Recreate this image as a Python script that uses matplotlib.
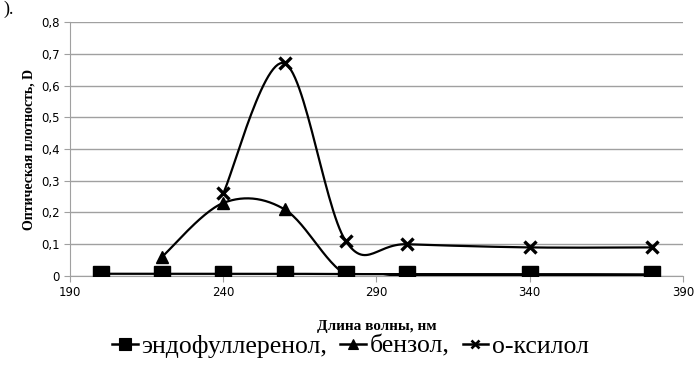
import numpy as np
import matplotlib
matplotlib.use('Agg')
import matplotlib.pyplot as plt
from matplotlib.lines import Line2D

# data
x_endo = [200, 220, 240, 260, 280, 300, 340, 380]
y_endo = [0.007, 0.007, 0.007, 0.007, 0.006, 0.006, 0.006, 0.005]
x_benz = [220, 240, 260, 280, 300, 340, 380]
y_benz = [0.06, 0.23, 0.21, 0.005, 0.003, 0.003, 0.002]
x_xyl = [240, 260, 280, 300, 340, 380]
y_xyl = [0.26, 0.67, 0.11, 0.10, 0.09, 0.09]
labels = ['эндофуллеренол,', 'бензол,', 'о-ксилол']
xticks = [190, 240, 290, 340, 390]
yticks = [0, 0.1, 0.2, 0.3, 0.4, 0.5, 0.6, 0.7, 0.8]


def smooth(x, y, n=30):
    # excel-like smoothed line: cubic bezier through the points
    x = np.asarray(x, float)
    y = np.asarray(y, float)
    px = np.concatenate([[x[0]], x, [x[-1]]])
    py = np.concatenate([[y[0]], y, [y[-1]]])
    xs, ys = [], []
    t = np.linspace(0, 1, n)
    for i in range(len(x) - 1):
        p0 = np.array([x[i], y[i]])
        p3 = np.array([x[i + 1], y[i + 1]])
        p1 = p0 + (np.array([px[i + 2], py[i + 2]]) - np.array([px[i], py[i]])) / 6
        p2 = p3 - (np.array([px[i + 3], py[i + 3]]) - np.array([px[i + 1], py[i + 1]])) / 6
        b = ((1 - t) ** 3)[:, None] * p0 + (3 * (1 - t) ** 2 * t)[:, None] * p1 \
            + (3 * (1 - t) * t ** 2)[:, None] * p2 + (t ** 3)[:, None] * p3
        xs.extend(b[:, 0])
        ys.extend(b[:, 1])
    return xs, ys


fig = plt.figure(figsize=(6.94, 3.67), dpi=100)
ax = fig.add_axes([0.1009, 0.248, 0.883, 0.692])

series = [(x_endo, y_endo, 's', 11, 1), (x_benz, y_benz, '^', 9, 1), (x_xyl, y_xyl, 'x', 8, 2.4)]
for xs_, ys_, m, ms, mew in series:
    sx, sy = smooth(xs_, ys_)
    ax.plot(sx, sy, color='black', lw=1.6, zorder=3)
    ax.plot(xs_, ys_, ls='none', marker=m, ms=ms, mew=mew, color='black', zorder=4)

ax.set_xlim(190, 390)
ax.set_ylim(0, 0.8)
ax.set_xticks(xticks)
ax.set_yticks(yticks)
ax.set_xticklabels([str(v) for v in xticks])
ax.set_yticklabels(['0' if v == 0 else ('%.1f' % v).replace('.', ',') for v in yticks])
ax.grid(axis='y', color='#a0a0a0', lw=1)
ax.set_axisbelow(True)
for s in ['top', 'right']:
    ax.spines[s].set_visible(False)
ax.spines['left'].set_color('#a0a0a0')
ax.spines['bottom'].set_color('#a0a0a0')
ax.tick_params(colors='#a0a0a0', length=4, labelcolor='black', labelsize=8.5)

ax.set_ylabel('Оптическая плотность, D', family='Liberation Serif', fontweight='bold', fontsize=10)
ax.set_xlabel('Длина волны, нм', family='Liberation Serif', fontweight='bold', fontsize=11, labelpad=15)

handles = [Line2D([], [], color='black', lw=1.8, marker=m, ms=ms * 0.75, mew=mew * 0.8)
           for _, _, m, ms, mew in series]
fig.legend(handles, labels, loc='center', bbox_to_anchor=(0.505, 0.056), ncol=3, frameon=False,
           handlelength=1.0, handletextpad=0.15, columnspacing=0.5,
           prop={'family': 'Liberation Serif', 'size': 18.5})

fig.text(0.005, 0.999, ').', family='Liberation Serif', fontsize=13, va='top')

fig.savefig('out.png', dpi=100)
